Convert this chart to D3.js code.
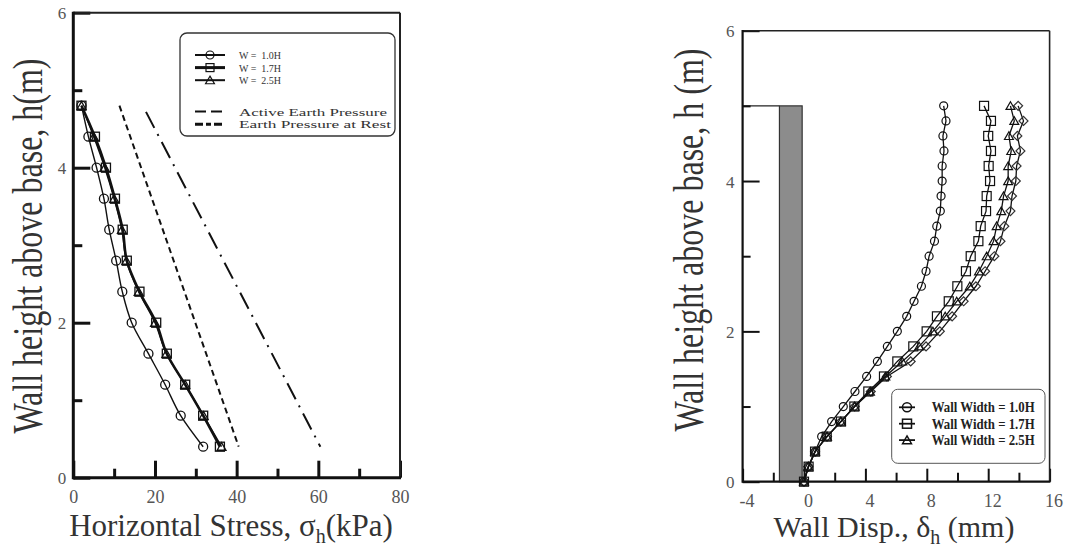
<!DOCTYPE html>
<html>
<head>
<meta charset="utf-8">
<script src="https://cdn.jsdelivr.net/npm/d3@7"></script>
<style>
  body { margin: 0; background: #fff; }
  svg { display: block; }
  svg text { font-family: "Liberation Serif", "DejaVu Serif", serif; }
</style>
</head>
<body>
<svg id="chart" width="1071" height="548"></svg>
<script>
// ---- left panel: horizontal stress vs height ----
const heightsL = [4.8, 4.4, 4.0, 3.6, 3.2, 2.8, 2.4, 2.0, 1.6, 1.2, 0.8, 0.4];
const stressW10 = [2.0, 3.7, 5.7, 7.5, 8.8, 10.5, 12.0, 14.3, 18.4, 22.5, 26.3, 31.8];
const stressW17 = [2.0, 5.3, 8.0, 10.2, 12.1, 13.1, 16.2, 20.3, 22.9, 27.4, 31.8, 35.9];
const stressW25 = [2.0, 5.0, 7.7, 10.0, 11.9, 13.0, 16.0, 20.0, 22.8, 27.4, 31.9, 36.3];
const activeLine = [[11.3, 4.8], [40.5, 0.4]];
const restLine = [[17.8, 4.72], [60.5, 0.4]];
const xTicksL = [0, 20, 40, 60, 80];
const xMinorL = [10, 30, 50, 70];
const yTicks = [0, 2, 4, 6];
const yMinor = [1, 3, 5];
const legendL = ["W =  1.0H", "W =  1.7H", "W =  2.5H"];
const legendLines = ["Active Earth Pressure", "Earth Pressure at Rest"];

// ---- right panel: wall displacement vs height ----
const heightsR = [5.0, 4.8, 4.6, 4.4, 4.2, 4.0, 3.8, 3.6, 3.4, 3.2, 3.0, 2.8, 2.6,
                  2.4, 2.2, 2.0, 1.8, 1.6, 1.4, 1.2, 1.0, 0.8, 0.6, 0.4, 0.2, 0.0];
const dispW10 = [9.1, 9.25, 9.05, 9.12, 9.0, 9.0, 8.93, 8.88, 8.65, 8.5, 8.15, 7.95, 7.65,
                 7.17, 6.69, 6.08, 5.43, 4.78, 4.08, 3.32, 2.56, 1.8, 1.15, 0.72, 0.28, 0.0];
const dispW17 = [11.73, 12.18, 12.0, 12.18, 12.03, 12.12, 11.9, 11.86, 11.51, 11.36, 10.86, 10.55, 9.99,
                 9.43, 8.66, 7.99, 7.12, 6.08, 5.21, 4.19, 3.28, 2.41, 1.48, 0.72, 0.3, 0.0];
const dispW25 = [13.45, 13.7, 13.35, 13.5, 13.3, 13.3, 13.0, 12.85, 12.55, 12.35, 11.9, 11.4, 10.8,
                 9.95, 9.2, 8.4, 7.5, 6.4, 5.3, 4.3, 3.3, 2.4, 1.5, 0.72, 0.28, 0.0];
const dispExtra = [13.95, 14.3, 13.9, 14.1, 13.85, 13.8, 13.55, 13.45, 13.05, 12.8, 12.4, 11.8, 11.2,
                   10.4, 9.65, 8.85, 7.95, 6.95, 5.4, 4.35, 3.3, 2.4, 1.5, 0.72, 0.28, 0.0];
const wallBlock = { x0: -1.6, x1: -0.12, top: 5.0 };
const xTicksR = [-4, 0, 4, 8, 12, 16];
const xMinorR = [-2, 2, 6, 10, 14];
const legendR = ["Wall Width = 1.0H", "Wall Width = 1.7H", "Wall Width = 2.5H"];

const SERIF = "Liberation Serif, DejaVu Serif, serif";
const svg = d3.select("#chart");

const xL = d3.scaleLinear([0, 80], [73.3, 400]);
const yL = d3.scaleLinear([0, 6], [477.7, 12.7]);
const xR = d3.scaleLinear([-4, 16], [742.6, 1049.6]);
const yR = d3.scaleLinear([0, 6], [481.7, 30.7]);

const tri = d3.symbol(d3.symbolTriangle, 34);
const dia = d3.symbol(d3.symbolSquare, 40);

function drawMarker(g, kind, cx, cy, r, sw) {
    if (kind === "circle") {
        g.append("circle").attr("cx", cx).attr("cy", cy).attr("r", r)
            .attr("fill", "none").attr("stroke", "#111").attr("stroke-width", sw);
    } else if (kind === "square") {
        g.append("rect").attr("x", cx - r).attr("y", cy - r)
            .attr("width", 2 * r).attr("height", 2 * r)
            .attr("fill", "none").attr("stroke", "#111").attr("stroke-width", sw);
    } else if (kind === "triangle") {
        g.append("path").attr("d", tri()).attr("transform", `translate(${cx},${cy + 1})`)
            .attr("fill", "none").attr("stroke", "#111").attr("stroke-width", sw);
    } else {
        g.append("path").attr("d", dia()).attr("transform", `translate(${cx},${cy}) rotate(45)`)
            .attr("fill", "none").attr("stroke", "#333").attr("stroke-width", sw);
    }
}

function drawAxes(x, y, xt, xm, yt, ym, opts) {
    const g = svg.append("g");
    const [x0, x1] = x.range();
    const [yb, yt0] = y.range();
    const fmt = d => d < 0 ? "-" + Math.abs(d) : String(d);

    const ax = g.append("g").attr("transform", `translate(0,${yb})`)
        .call(d3.axisBottom(x).tickValues(xt).tickSizeInner(-opts.major).tickSizeOuter(0)
            .tickPadding(0).tickFormat(fmt));
    g.append("g").attr("transform", `translate(0,${yb})`)
        .call(d3.axisBottom(x).tickValues(xm).tickSizeInner(-opts.minor).tickSizeOuter(0).tickFormat(""));
    const ay = g.append("g").attr("transform", `translate(${x0},0)`)
        .call(d3.axisLeft(y).tickValues(yt).tickSizeInner(-opts.majorY).tickSizeOuter(0)
            .tickPadding(0).tickFormat(fmt));
    g.append("g").attr("transform", `translate(${x0},0)`)
        .call(d3.axisLeft(y).tickValues(ym).tickSizeInner(-opts.minorY).tickSizeOuter(0).tickFormat(""));

    g.selectAll("g").attr("font-family", SERIF);
    g.selectAll(".domain").remove();
    g.selectAll(".tick line").attr("stroke", "#111").attr("stroke-width", opts.tickW);

    ax.selectAll("text").attr("y", opts.xLabY).attr("dy", 0).attr("dx", opts.xLabDx || 0)
        .attr("font-size", 18).attr("fill", "#555");
    ay.selectAll("text").attr("x", -opts.yLabGap).attr("dy", "0.36em")
        .attr("font-size", 17).attr("fill", "#555");

    // frame
    g.append("line").attr("x1", x0).attr("x2", x1).attr("y1", yt0).attr("y2", yt0)
        .attr("stroke", "#222").attr("stroke-width", opts.thin);
    g.append("line").attr("x1", x1).attr("x2", x1).attr("y1", yt0).attr("y2", yb)
        .attr("stroke", "#222").attr("stroke-width", opts.thin);
    g.append("line").attr("x1", x0).attr("x2", x0).attr("y1", yt0 - opts.thin / 2).attr("y2", yb + opts.thick / 2)
        .attr("stroke", "#111").attr("stroke-width", opts.thick);
    g.append("line").attr("x1", x0).attr("x2", x1 + opts.thin / 2).attr("y1", yb).attr("y2", yb)
        .attr("stroke", "#111").attr("stroke-width", opts.thick);
}

// ===== LEFT PANEL =====
drawAxes(xL, yL, xTicksL, xMinorL, yTicks, yMinor, {
    major: 17, minor: 9, majorY: 17, minorY: 9, tickW: 3, thick: 3, thin: 2,
    xLabY: 25, yLabGap: 7
});

const lineL = d3.line().x(d => xL(d[0])).y(d => yL(d[1]));

const refL = svg.append("g").attr("fill", "none").attr("stroke", "#111");
refL.append("path").attr("d", lineL(activeLine)).attr("stroke-width", 2).attr("stroke-dasharray", "6,4");
refL.append("path").attr("d", lineL(restLine)).attr("stroke-width", 2).attr("stroke-dasharray", "18,7,2,7");

const seriesL = [
    { vals: stressW10, kind: "circle", w: 1.4 },
    { vals: stressW25, kind: "triangle", w: 1.4 },
    { vals: stressW17, kind: "square", w: 2.6 }
];
seriesL.forEach(s => {
    const pts = s.vals.map((v, i) => [v, heightsL[i]]);
    svg.append("path").attr("d", d3.line().curve(d3.curveMonotoneY)
            .x(d => xL(d[0])).y(d => yL(d[1]))(pts))
        .attr("fill", "none").attr("stroke", "#111").attr("stroke-width", s.w);
    const mg = svg.append("g");
    pts.forEach(p => drawMarker(mg, s.kind, xL(p[0]), yL(p[1]), 4.5, 1.3));
});

// left legend
const lgL = svg.append("g");
lgL.append("rect").attr("x", 180).attr("y", 33).attr("width", 215).attr("height", 103)
    .attr("rx", 7).attr("fill", "#fff").attr("stroke", "#333").attr("stroke-width", 1.3);
const kindsL = ["circle", "square", "triangle"];
const widthsL = [2, 3, 2];
legendL.forEach((t, i) => {
    const cy = 55 + i * 12.6;
    lgL.append("line").attr("x1", 195).attr("x2", 225).attr("y1", cy).attr("y2", cy)
        .attr("stroke", "#111").attr("stroke-width", widthsL[i]);
    drawMarker(lgL, kindsL[i], 210, cy, 4, 1.2);
    lgL.append("text").attr("x", 239).attr("y", cy + 4).attr("font-size", 11).attr("fill", "#333")
        .attr("font-family", SERIF)
        .attr("textLength", 42).attr("lengthAdjust", "spacingAndGlyphs").attr("xml:space", "preserve").text(t);
});
const dashL = [{ da: "11,5", w: 2 }, { da: "8,3,5,3", w: 3 }];
legendLines.forEach((t, i) => {
    const cy = 111.5 + i * 12.8;
    lgL.append("line").attr("x1", 195).attr("x2", 225).attr("y1", cy).attr("y2", cy)
        .attr("stroke", "#111").attr("stroke-width", dashL[i].w).attr("stroke-dasharray", dashL[i].da);
    lgL.append("text").attr("x", 239).attr("y", cy + 4).attr("font-size", 11).attr("fill", "#333")
        .attr("font-family", SERIF)
        .attr("textLength", i === 0 ? 148 : 152).attr("lengthAdjust", "spacingAndGlyphs").text(t);
});

// left titles
const xtL = svg.append("text").attr("x", 231).attr("y", 536).attr("text-anchor", "middle")
    .attr("font-family", SERIF).attr("font-size", 31).attr("fill", "#333");
xtL.append("tspan").text("Horizontal Stress, σ");
xtL.append("tspan").attr("font-size", 20).attr("dy", 7).text("h");
xtL.append("tspan").attr("dy", -7).text("(kPa)");

svg.append("text").attr("transform", "translate(42,246) rotate(-90) scale(1,1.3)")
    .attr("text-anchor", "middle").attr("font-family", SERIF).attr("font-size", 32).attr("fill", "#333")
    .text("Wall height above base, h(m)");

// ===== RIGHT PANEL =====
// wall block
svg.append("line").attr("x1", xR(-4)).attr("x2", xR(wallBlock.x0))
    .attr("y1", yR(wallBlock.top)).attr("y2", yR(wallBlock.top))
    .attr("stroke", "#222").attr("stroke-width", 1.2);
svg.append("rect").attr("x", xR(wallBlock.x0)).attr("y", yR(wallBlock.top))
    .attr("width", xR(wallBlock.x1) - xR(wallBlock.x0)).attr("height", yR(0) - yR(wallBlock.top))
    .attr("fill", "#8c8c8c").attr("stroke", "#333").attr("stroke-width", 1.2);

drawAxes(xR, yR, xTicksR, xMinorR, yTicks, yMinor, {
    major: 13, minor: 9, majorY: 17, minorY: 8, tickW: 2, thick: 2.2, thin: 1.6,
    xLabY: 25, xLabDx: 4, yLabGap: 8
});

const seriesR = [
    { vals: dispExtra, kind: "diamond" },
    { vals: dispW25, kind: "triangle" },
    { vals: dispW17, kind: "square" },
    { vals: dispW10, kind: "circle" }
];
const lineR = d3.line().x(d => xR(d[0])).y(d => yR(d[1]));
seriesR.forEach(s => {
    const pts = s.vals.map((v, i) => [v, heightsR[i]]);
    svg.append("path").attr("d", lineR(pts)).attr("fill", "none")
        .attr("stroke", "#111").attr("stroke-width", 1.3);
    const mg = svg.append("g");
    pts.forEach(p => drawMarker(mg, s.kind, xR(p[0]), yR(p[1]), s.kind === "square" ? 4.5 : 4, 1.2));
});

// right legend
const lgR = svg.append("g");
lgR.append("rect").attr("x", 891.7).attr("y", 389.3).attr("width", 153.3).attr("height", 74)
    .attr("rx", 6).attr("fill", "#fff").attr("stroke", "#555").attr("stroke-width", 1);
legendR.forEach((t, i) => {
    const cy = 407.3 + i * 16.4;
    lgR.append("line").attr("x1", 899).attr("x2", 915).attr("y1", cy).attr("y2", cy)
        .attr("stroke", "#111").attr("stroke-width", 1.8);
    drawMarker(lgR, kindsL[i], 907, cy, 4.5, 1.5);
    lgR.append("text").attr("x", 931.7).attr("y", cy + 5).attr("font-size", 14).attr("font-weight", "bold")
        .attr("font-family", SERIF)
        .attr("fill", "#222").attr("textLength", 103).attr("lengthAdjust", "spacingAndGlyphs").text(t);
});

// right titles
const xtR = svg.append("text").attr("x", 894).attr("y", 537).attr("text-anchor", "middle")
    .attr("font-family", SERIF).attr("font-size", 30).attr("fill", "#333");
xtR.append("tspan").text("Wall Disp., δ");
xtR.append("tspan").attr("font-size", 20).attr("dy", 7).text("h");
xtR.append("tspan").attr("dy", -7).text(" (mm)");

svg.append("text").attr("transform", "translate(703,240) rotate(-90) scale(1,1.3)")
    .attr("text-anchor", "middle").attr("font-family", SERIF).attr("font-size", 32).attr("fill", "#333")
    .text("Wall height above base, h (m)");
</script>
</body>
</html>
